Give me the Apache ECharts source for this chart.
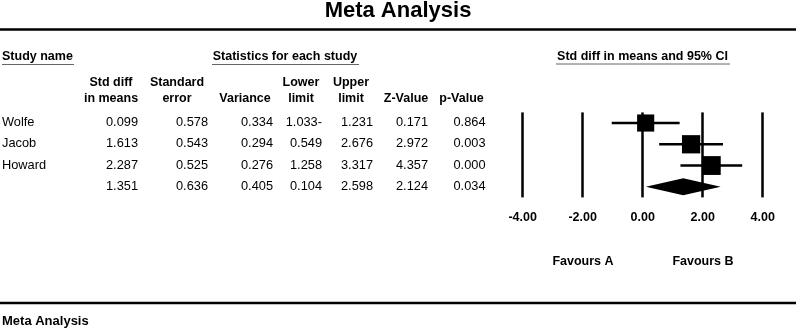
<!DOCTYPE html>
<html>
<head>
<meta charset="utf-8">
<script src="https://cdn.jsdelivr.net/npm/echarts@6/dist/echarts.min.js"></script>
<style>
  html, body { margin: 0; padding: 0; background: #fff; }
  #chart { width: 796px; height: 328px; }
</style>
</head>
<body>
<div id="chart"></div>
<script>
// study data
const studies = ['Wolfe', 'Jacob', 'Howard', ''];
const stdDiff = [0.099, 1.613, 2.287, 1.351];
const stdErr = [0.578, 0.543, 0.525, 0.636];
const variance = [0.334, 0.294, 0.276, 0.405];
const lower = [-1.033, 0.549, 1.258, 0.104];
const upper = [1.231, 2.676, 3.317, 2.598];
const zValue = [0.171, 2.972, 4.357, 2.124];
const pValue = [0.864, 0.003, 0.000, 0.034];
const xMin = -4, xMax = 4, xStep = 2;

const FONT = '"Liberation Sans", Arial, sans-serif';
const rowY = [122.6, 143.8, 165.1, 186.4];

function fmt(v) {
  // the table prints negatives with a trailing minus
  return v < 0 ? Math.abs(v).toFixed(3) + '-' : v.toFixed(3);
}

const columns = [
  { vals: stdDiff, right: 138, head: ['Std diff', 'in means'], hx: 111 },
  { vals: stdErr, right: 208, head: ['Standard', 'error'], hx: 177 },
  { vals: variance, right: 273, head: ['', 'Variance'], hx: 245 },
  { vals: lower, right: 322, head: ['Lower', 'limit'], hx: 301 },
  { vals: upper, right: 373, head: ['Upper', 'limit'], hx: 351 },
  { vals: zValue, right: 428, head: ['', 'Z-Value'], hx: 406 },
  { vals: pValue, right: 485.5, head: ['', 'p-Value'], hx: 461.5 }
];

function txt(text, x, y, opt) {
  opt = opt || {};
  return {
    type: 'text', x: x, y: y, silent: true,
    style: {
      text: text, fill: '#000',
      font: (opt.bold ? 'bold ' : '') + (opt.size || 12.5) + 'px ' + FONT,
      textAlign: opt.align || 'left', textVerticalAlign: 'middle'
    }
  };
}
function hline(x1, x2, y, w, color) {
  return {
    type: 'line', silent: true,
    shape: { x1: x1, y1: y, x2: x2, y2: y },
    style: { stroke: color || '#000', lineWidth: w }
  };
}

const graphics = [
  txt('Meta Analysis', 398, 10.5, { bold: true, size: 22, align: 'center' }),
  hline(0, 796, 29.5, 2.5),
  txt('Study name', 2, 57, { bold: true }),
  hline(2, 74, 64.5, 1, '#666'),
  txt('Statistics for each study', 285, 57, { bold: true, align: 'center' }),
  hline(212, 359, 64.5, 1, '#666'),
  txt('Std diff in means and 95% CI', 642.5, 56.5, { bold: true, align: 'center' }),
  hline(556, 730, 64, 1, '#666'),
  txt('Favours A', 583, 262, { bold: true, align: 'center' }),
  txt('Favours B', 703, 262, { bold: true, align: 'center' }),
  hline(0, 796, 303, 2.5),
  txt('Meta Analysis', 2, 321, { bold: true, size: 13 })
];
columns.forEach(function (c) {
  if (c.head[0]) graphics.push(txt(c.head[0], c.hx, 83, { bold: true, align: 'center' }));
  graphics.push(txt(c.head[1], c.hx, 98.3, { bold: true, align: 'center' }));
  c.vals.forEach(function (v, i) {
    graphics.push(txt(fmt(v), c.right, rowY[i], { size: 12.8, align: 'right' }));
  });
});
studies.forEach(function (s, i) {
  if (s) graphics.push(txt(s, 2, rowY[i], { size: 12.8 }));
});

const studyData = [];
for (let i = 0; i < 3; i++) studyData.push([stdDiff[i], i, lower[i], upper[i], variance[i]]);
const summaryData = [[stdDiff[3], 3, lower[3], upper[3]]];

const chart = echarts.init(document.getElementById('chart'));
chart.setOption({
  animation: false,
  textStyle: { fontFamily: FONT },
  grid: { left: 522.7, right: 33.3, top: 112.4, height: 85 },
  xAxis: {
    type: 'value', min: xMin, max: xMax, interval: xStep,
    axisLine: { show: false },
    axisTick: { show: false },
    splitLine: { show: true, lineStyle: { color: '#000', width: 2.5 } },
    axisLabel: {
      color: '#000', fontWeight: 'bold', fontSize: 12.5, margin: 14,
      formatter: function (v) { return v.toFixed(2); }
    }
  },
  yAxis: { type: 'value', min: -0.5, max: 3.5, inverse: true, show: false },
  series: [
    {
      type: 'custom',
      data: studyData,
      renderItem: function (params, api) {
        const c = api.coord([api.value(0), api.value(1)]);
        const lo = api.coord([api.value(2), api.value(1)]);
        const hi = api.coord([api.value(3), api.value(1)]);
        // square size grows with study weight (1 / variance)
        const s = 9.9 * Math.sqrt(1 / api.value(4));
        return {
          type: 'group',
          children: [
            { type: 'line', shape: { x1: lo[0], y1: c[1], x2: hi[0], y2: c[1] },
              style: { stroke: '#000', lineWidth: 2.5 } },
            { type: 'rect', shape: { x: c[0] - s / 2, y: c[1] - s / 2, width: s, height: s },
              style: { fill: '#000' } }
          ]
        };
      }
    },
    {
      type: 'custom',
      data: summaryData,
      renderItem: function (params, api) {
        const c = api.coord([api.value(0), api.value(1)]);
        const lo = api.coord([api.value(2), api.value(1)]);
        const hi = api.coord([api.value(3), api.value(1)]);
        const h = 17;
        return {
          type: 'polygon',
          shape: { points: [[lo[0], c[1]], [c[0], c[1] - h / 2], [hi[0], c[1]], [c[0], c[1] + h / 2]] },
          style: { fill: '#000' }
        };
      }
    }
  ],
  graphic: graphics
});
</script>
</body>
</html>
